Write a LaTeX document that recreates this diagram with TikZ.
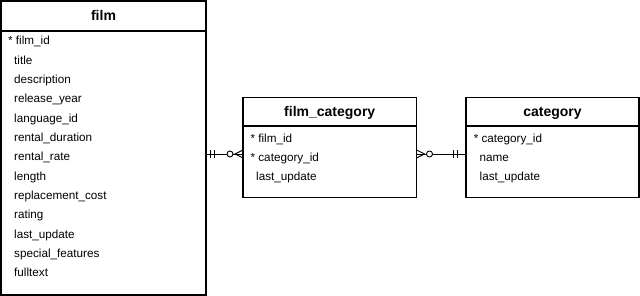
\documentclass[tikz,border=0pt]{standalone}
\usepackage{fontspec}
\setmainfont{Liberation Sans}
\usetikzlibrary{calc}
\begin{document}
\begin{tikzpicture}[x=1pt,y=-1pt,
  entity/.style={draw, line width=1.5pt, inner sep=0pt, outer sep=0pt, anchor=north west},
  sepline/.style={line width=1.5pt},
  etitle/.style={font=\fontsize{14}{16}\selectfont\bfseries, anchor=base, inner sep=0pt},
  field/.style={font=\fontsize{11.7}{14}\selectfont, anchor=base west, inner sep=0pt},
  conn/.style={line width=0.9pt},
]
\useasboundingbox (0,0) rectangle (640,296);
% entities
\node[entity, minimum width=205pt, minimum height=294pt] (film) at (1,1) {};
\node[entity, minimum width=173.5pt, minimum height=100pt] (fc) at (243,97.5) {};
\node[entity, minimum width=173pt, minimum height=100pt] (cat) at (466,97.5) {};
% header separators
\draw[sepline] (film.west |- 0,31) -- (film.east |- 0,31);
\draw[sepline] (fc.west |- 0,126) -- (fc.east |- 0,126);
\draw[sepline] (cat.west |- 0,126) -- (cat.east |- 0,126);
% titles
\node[etitle] (filmt) at (103.5,21) {film};
\node[etitle] (fct) at (329.75,116.5) {film\_category};
\node[etitle] (catt) at (552.5,116.5) {category};
% film fields
\node[field] (f1) at (8,44.9) {* film\_id};
\foreach \t [count=\i from 1] in {title,description,release\_year,language\_id,rental\_duration,rental\_rate,length,replacement\_cost,rating,last\_update,special\_features,fulltext}{
  \node[field] (f\i x) at (14,{44.9+\i*19.33}) {\t};
}
% film_category fields
\node[field] (fc1) at (250.4,142.4) {* film\_id};
\node[field] (fc2) at (250.4,161.7) {* category\_id};
\node[field] (fc3) at (256,181) {last\_update};
% category fields
\node[field] (c1) at (473.6,142.4) {* category\_id};
\node[field] (c2) at (479.5,161.7) {name};
\node[field] (c3) at (479.5,181) {last\_update};
% connectors
\coordinate (cy) at (0,154);
% film -- film_category
\draw[conn] (film.east |- cy) -- (fc.west |- cy);
\draw[conn] ($(film.east |- cy)+(4.5,-3.7)$) -- ++(0,7.4);
\draw[conn] ($(film.east |- cy)+(8,-3.7)$) -- ++(0,7.4);
\draw[conn, fill=white] ($(fc.west |- cy)+(-13,0)$) circle[radius=3pt];
\draw[conn] ($(fc.west |- cy)+(0,-4)$) -- ($(fc.west |- cy)+(-8,0)$) -- ($(fc.west |- cy)+(0,4)$);
% film_category -- category
\draw[conn] (fc.east |- cy) -- (cat.west |- cy);
\draw[conn] ($(fc.east |- cy)+(0,-4)$) -- ($(fc.east |- cy)+(8,0)$) -- ($(fc.east |- cy)+(0,4)$);
\draw[conn, fill=white] ($(fc.east |- cy)+(13,0)$) circle[radius=3pt];
\draw[conn] ($(cat.west |- cy)+(-12.5,-3.7)$) -- ++(0,7.4);
\draw[conn] ($(cat.west |- cy)+(-9,-3.7)$) -- ++(0,7.4);
\end{tikzpicture}
\end{document}
